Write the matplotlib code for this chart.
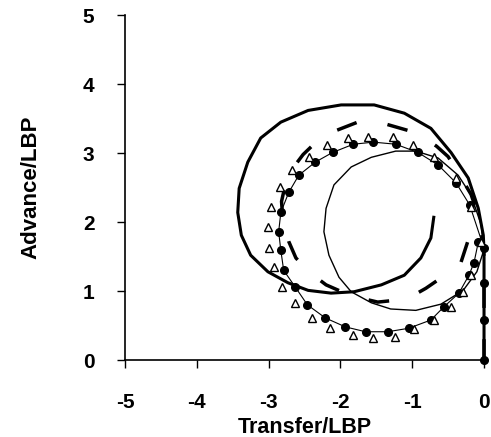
import matplotlib
matplotlib.use("Agg")
from matplotlib import pyplot as plt

plt.rcParams['font.family'] = ['Liberation Sans', 'DejaVu Sans']
plt.rcParams['axes.unicode_minus'] = False

# thick solid trajectory (transfer, advance), in ship lengths
thick_x = [0, 0, -0.01, -0.08, -0.22, -0.46, -0.74, -1.11, -1.53, -1.99, -2.45, -2.83,
           -3.11, -3.29, -3.41, -3.43, -3.38, -3.25, -3.01, -2.73, -2.45, -2.13, -1.81,
           -1.43, -1.11, -0.88, -0.74, -0.70]
thick_y = [0, 1.59, 1.81, 2.20, 2.64, 3.01, 3.36, 3.58, 3.70, 3.70, 3.62, 3.45,
           3.22, 2.87, 2.49, 2.14, 1.81, 1.52, 1.28, 1.12, 1.01, 0.97, 0.99,
           1.09, 1.23, 1.48, 1.77, 2.07]

# thin solid trajectory
thin_x = [0, 0, -0.04, -0.18, -0.36, -0.64, -0.95, -1.23, -1.57, -1.85, -2.09, -2.20,
          -2.23, -2.16, -2.02, -1.85, -1.57, -1.30, -0.95, -0.60, -0.29, -0.10, -0.01]
thin_y = [0, 1.59, 1.96, 2.39, 2.68, 2.93, 3.03, 3.03, 2.94, 2.80, 2.54, 2.20,
          1.86, 1.52, 1.20, 0.99, 0.83, 0.74, 0.72, 0.81, 1.01, 1.28, 1.57]

# dashed trajectory
dash_x = [0, 0, -0.05, -0.18, -0.36, -0.50, -0.66, -0.84, -1.06, -1.46, -1.76, -2.13,
          -2.34, -2.52, -2.65, -2.76, -2.82, -2.80, -2.72, -2.62, -2.44, -2.20, -1.85,
          -1.48, -1.20, -0.98, -0.81, -0.60, -0.45, -0.32, -0.22]
dash_y = [0, 1.50, 2.00, 2.40, 2.72, 2.95, 3.10, 3.23, 3.33, 3.45, 3.45, 3.30,
          3.16, 2.98, 2.80, 2.58, 2.30, 2.00, 1.72, 1.48, 1.28, 1.09, 0.93,
          0.84, 0.87, 0.94, 1.04, 1.19, 1.30, 1.42, 1.74]

# measured points, filled circles
dot_x = [0, 0, 0, 0, -0.20, -0.39, -0.64, -0.92, -1.23, -1.54, -1.82, -2.11,
         -2.35, -2.58, -2.72, -2.83, -2.86, -2.83, -2.79, -2.63, -2.46, -2.21, -1.93,
         -1.65, -1.34, -1.05, -0.74, -0.56, -0.35, -0.21, -0.14, -0.08]
dot_y = [0, 0.58, 1.12, 1.62, 2.25, 2.57, 2.83, 3.01, 3.13, 3.16, 3.13, 3.01,
         2.87, 2.68, 2.43, 2.14, 1.86, 1.59, 1.30, 1.06, 0.80, 0.61, 0.48,
         0.41, 0.41, 0.46, 0.58, 0.77, 0.97, 1.23, 1.41, 1.71]

# measured points, open triangles
tri_x = [-0.04, -0.18, -0.39, -0.70, -0.99, -1.27, -1.61, -1.90, -2.18, -2.44, -2.67,
         -2.84, -2.97, -3.01, -3.00, -2.93, -2.81, -2.63, -2.39, -2.14, -1.83, -1.54,
         -1.24, -0.98, -0.70, -0.46, -0.29, -0.18]
tri_y = [1.71, 2.22, 2.64, 2.95, 3.12, 3.23, 3.23, 3.22, 3.12, 2.95, 2.75,
         2.51, 2.22, 1.93, 1.62, 1.35, 1.06, 0.83, 0.61, 0.46, 0.36, 0.32,
         0.33, 0.45, 0.58, 0.77, 0.99, 1.23]

fig = plt.figure(figsize=(4.91, 4.37), dpi=100)
ax = fig.add_axes([0.2546, 0.1762, 0.7312, 0.7888])

ax.plot(thick_x, thick_y, color='black', lw=2.2, clip_on=False)
ax.plot(thin_x, thin_y, color='black', lw=1.0, clip_on=False)
ax.plot(dash_x, dash_y, color='black', lw=2.5, dashes=(6, 9), clip_on=False)
ax.plot(dot_x, dot_y, color='black', lw=0.8, marker='o', ms=5.5, clip_on=False)
ax.plot(tri_x, tri_y, ls='none', marker='^', ms=5.5, mfc='white', mec='black',
        mew=1.0, clip_on=False)

ax.set_xlim(-5, 0)
ax.set_ylim(0, 5)
ax.set_xticks([-5, -4, -3, -2, -1, 0])
ax.set_yticks([0, 1, 2, 3, 4, 5])
ax.spines['top'].set_visible(False)
ax.spines['right'].set_visible(False)
ax.spines['left'].set_linewidth(1.2)
ax.spines['bottom'].set_linewidth(1.2)
ax.tick_params(direction='out', length=6, width=1, labelsize=15)
ax.tick_params(axis='x', pad=18)
ax.tick_params(axis='y', pad=16)
for lab in ax.get_xticklabels() + ax.get_yticklabels():
    lab.set_fontweight('bold')

ax.set_xlabel('Transfer/LBP', fontsize=15.5, fontweight='bold', labelpad=3)
ax.set_ylabel('Advance/LBP', fontsize=16, fontweight='bold', labelpad=30)

fig.savefig('out.png', dpi=100)
